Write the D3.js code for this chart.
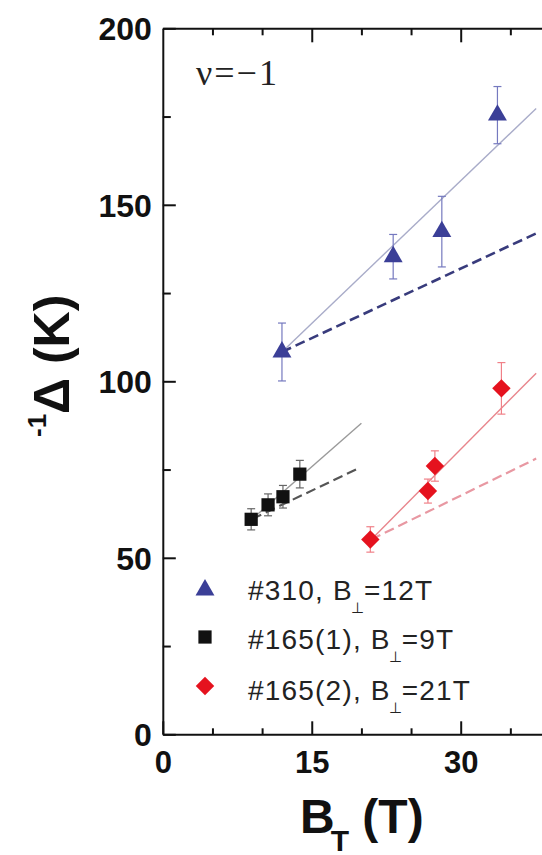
<!DOCTYPE html>
<html>
<head>
<meta charset="utf-8">
<script src="https://cdn.jsdelivr.net/npm/d3@7"></script>
<style>
  body { margin: 0; background: #fff; }
  svg { display: block; }
  text { font-family: "Liberation Sans", Arial, sans-serif; }
</style>
</head>
<body>
<svg id="chart"></svg>
<script>
// values: B_T (T), gap (K), error bar half-height (K)
const bt310 = [12.0, 23.2, 28.1, 33.7];
const gap310 = [108.3, 135.3, 142.4, 175.4];
const err310 = [8.2, 6.3, 10.0, 8.1];

const bt165a = [8.9, 10.6, 12.1, 13.8];
const gap165a = [60.9, 65.0, 67.3, 73.7];
const err165a = [3.0, 3.1, 3.2, 3.9];

const bt165b = [20.9, 26.7, 27.4, 34.1];
const gap165b = [55.2, 68.9, 76.0, 98.0];
const err165b = [3.6, 3.4, 4.3, 7.3];

// fit lines as [start, end] points [B_T, gap]
const solid310 = [[12.0, 108.3], [37.6, 177.3]];
const dashed310 = [[12.0, 108.3], [37.6, 141.9]];
const solid165a = [[9.0, 61.0], [20.0, 88.1]];
const dashed165a = [[9.0, 61.0], [19.9, 75.6]];
const solid165b = [[21.0, 55.2], [37.6, 102.3]];
const dashed165b = [[21.0, 55.2], [37.6, 78.1]];

const legendNames = ["#310, B", "#165(1), B", "#165(2), B"];
const legendFields = ["=12T", "=9T", "=21T"];

const yTicks = [0, 50, 100, 150, 200];
const yMinor = [25, 75, 125, 175];
const xTicks = [0, 15, 30];
const xMinor = [5, 10, 20, 25, 35];

const series = [
    {bt: bt310, gap: gap310, err: err310, solid: solid310, dashed: dashed310,
     symbol: d3.symbolTriangle, size: 155, rotate: 0,
     fill: "#3b3f97", errColor: "#7579bf", solidColor: "#a9acc9", dashColor: "#383b7c", dashWidth: 2.6},
    {bt: bt165a, gap: gap165a, err: err165a, solid: solid165a, dashed: dashed165a,
     symbol: d3.symbolSquare, size: 175, rotate: 0,
     fill: "#111", errColor: "#666", solidColor: "#9a9a9a", dashColor: "#555", dashWidth: 2.2},
    {bt: bt165b, gap: gap165b, err: err165b, solid: solid165b, dashed: dashed165b,
     symbol: d3.symbolSquare, size: 170, rotate: 45,
     fill: "#e5121e", errColor: "#f08088", solidColor: "#e8858c", dashColor: "#e898a2", dashWidth: 2.2}
];

const width = 542, height = 855;
const plot = {left: 162.8, top: 28.3, bottom: 734.3};

const svg = d3.select("#chart")
    .attr("width", width)
    .attr("height", height);

const x = d3.scaleLinear()
    .domain([0, 40])
    .range([plot.left, plot.left + 397.2]);

const y = d3.scaleLinear()
    .domain([0, 200])
    .range([plot.bottom, plot.top]);

// fit lines
const line = d3.line().x(d => x(d[0])).y(d => y(d[1]));

series.forEach(s => {
    svg.append("path")
        .attr("d", line(s.solid))
        .attr("fill", "none")
        .attr("stroke", s.solidColor)
        .attr("stroke-width", 1.4);

    svg.append("path")
        .attr("d", line(s.dashed))
        .attr("fill", "none")
        .attr("stroke", s.dashColor)
        .attr("stroke-width", s.dashWidth)
        .attr("stroke-dasharray", "10,5");
});

// error bars
series.forEach(s => {
    const g = svg.append("g")
        .attr("stroke", s.errColor)
        .attr("stroke-width", 1.2);

    s.bt.forEach((b, i) => {
        const cx = x(b);
        const top = y(s.gap[i] + s.err[i]);
        const bot = y(s.gap[i] - s.err[i]);
        g.append("line").attr("x1", cx).attr("x2", cx).attr("y1", top).attr("y2", bot);
        g.append("line").attr("x1", cx - 4).attr("x2", cx + 4).attr("y1", top).attr("y2", top);
        g.append("line").attr("x1", cx - 4).attr("x2", cx + 4).attr("y1", bot).attr("y2", bot);
    });
});

// markers
series.forEach(s => {
    const sym = d3.symbol().type(s.symbol).size(s.size);
    svg.append("g").selectAll("path")
        .data(s.bt.map((b, i) => [b, s.gap[i]]))
        .enter().append("path")
        .attr("d", sym)
        .attr("transform", d => `translate(${x(d[0])},${y(d[1])}) rotate(${s.rotate})`)
        .attr("fill", s.fill);
});

// axes, ticks pointing inwards
const axisStyle = g => {
    g.selectAll("path, line").attr("stroke", "#111").attr("stroke-width", 2);
    g.selectAll("text")
        .attr("fill", "#111")
        .style("font-weight", "bold");
};

svg.append("g")
    .attr("transform", `translate(${plot.left},0)`)
    .call(d3.axisLeft(y).tickValues(yTicks).tickSize(-13).tickSizeOuter(0).tickPadding(11))
    .call(axisStyle)
    .selectAll("text").style("font-size", "32px").attr("dy", "0.36em");

svg.append("g")
    .attr("transform", `translate(${plot.left},0)`)
    .call(d3.axisLeft(y).tickValues(yMinor).tickSize(-8).tickSizeOuter(0).tickFormat(""))
    .call(axisStyle)
    .select(".domain").remove();

svg.append("g")
    .attr("transform", `translate(0,${plot.bottom})`)
    .call(d3.axisBottom(x).tickValues(xTicks).tickSize(-13).tickSizeOuter(0).tickPadding(17))
    .call(axisStyle)
    .selectAll("text").style("font-size", "31px");

svg.append("g")
    .attr("transform", `translate(0,${plot.bottom})`)
    .call(d3.axisBottom(x).tickValues(xMinor).tickSize(-6).tickSizeOuter(0).tickFormat(""))
    .call(axisStyle)
    .select(".domain").remove();

svg.append("g")
    .attr("transform", `translate(0,${plot.top})`)
    .call(d3.axisTop(x).tickValues(xTicks.filter(v => v > 0)).tickSize(-14).tickSizeOuter(0).tickFormat(""))
    .call(axisStyle);

svg.append("g")
    .attr("transform", `translate(0,${plot.top})`)
    .call(d3.axisTop(x).tickValues(xMinor).tickSize(-7).tickSizeOuter(0).tickFormat(""))
    .call(axisStyle)
    .select(".domain").remove();

// axis titles
const xTitle = svg.append("text")
    .attr("x", 300)
    .attr("y", 833)
    .style("font-size", "48px")
    .style("font-weight", "bold")
    .attr("fill", "#111");
xTitle.append("tspan").text("B");
xTitle.append("tspan").attr("dx", -4).attr("dy", 18).style("font-size", "30px").text("T");
xTitle.append("tspan").attr("dy", -18).text(" (T)");

const yTitle = svg.append("text")
    .attr("transform", "translate(68.5,437) rotate(-90)")
    .style("font-weight", "bold")
    .attr("fill", "#111");
yTitle.append("tspan").attr("dy", -23).style("font-size", "26px").text("-1");
yTitle.append("tspan").attr("dy", 23).style("font-size", "50px").text("Δ (K)");

// filling factor label
svg.append("text")
    .attr("x", 196)
    .attr("y", 85)
    .style("font-family", "'Liberation Serif', 'Times New Roman', serif")
    .style("font-size", "36px")
    .style("letter-spacing", "2px")
    .attr("fill", "#222")
    .text("ν=−1");

// legend
const legendY = [590, 637, 686];
series.forEach((s, i) => {
    svg.append("path")
        .attr("d", d3.symbol().type(s.symbol).size(s.size)())
        .attr("transform", `translate(205,${legendY[i]}) rotate(${s.rotate})`)
        .attr("fill", s.fill);

    const t = svg.append("text")
        .attr("x", 248)
        .attr("y", legendY[i] + 10 + i * 2)
        .style("font-size", "28px")
        .style("letter-spacing", "1.2px")
        .attr("fill", "#222");
    t.append("tspan").text(legendNames[i]);
    t.append("tspan").attr("dx", -2).attr("dy", 13).style("font-size", "15px").style("letter-spacing", "0px").text("⊥");
    t.append("tspan").attr("dy", -13).text(legendFields[i]);
});
</script>
</body>
</html>
